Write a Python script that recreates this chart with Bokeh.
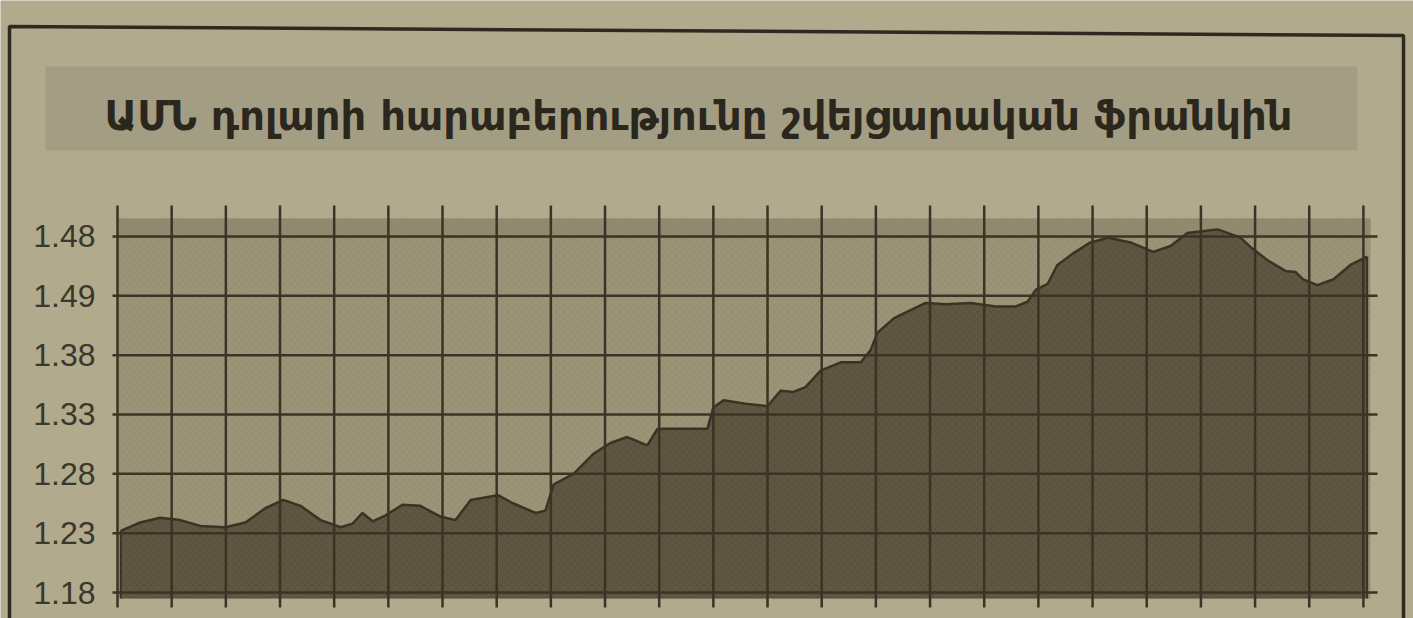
from bokeh.plotting import figure
from bokeh.embed import file_html
from bokeh.resources import INLINE
from bokeh.core.properties import value

# ---- data ----
title_text = "ԱՄՆ դոլարի հարաբերությունը շվեյցարական ֆրանկին"
week = [0.06, 0.42, 0.79, 1.16, 1.53, 1.99, 2.36, 2.73, 3.06, 3.38, 3.75, 4.12, 4.34, 4.52,
        4.71, 4.95, 5.26, 5.59, 5.96, 6.24, 6.52, 7.02, 7.31, 7.72, 7.90, 8.05, 8.42, 8.79,
        9.10, 9.41, 9.78, 9.97, 10.39, 10.89, 11.0, 11.19, 11.59, 12.0, 12.24, 12.48, 12.70,
        12.98, 13.35, 13.72, 13.9, 14.03, 14.33, 14.64, 14.92, 15.29, 15.75, 16.21, 16.58,
        16.80, 16.95, 17.17, 17.35, 17.65, 17.96, 18.29, 18.70, 19.12, 19.44, 19.75, 20.31,
        20.73, 20.92, 21.23, 21.56, 21.75, 21.88, 22.15, 22.45, 22.76, 23.07]
rate = [1.232, 1.239, 1.243, 1.241, 1.236, 1.235, 1.239, 1.251, 1.258, 1.253, 1.241, 1.235,
        1.238, 1.247, 1.240, 1.245, 1.254, 1.253, 1.244, 1.241, 1.258, 1.262, 1.255, 1.247,
        1.249, 1.271, 1.280, 1.297, 1.306, 1.311, 1.304, 1.318, 1.318, 1.318, 1.336, 1.342,
        1.339, 1.337, 1.350, 1.349, 1.353, 1.367, 1.374, 1.374, 1.384, 1.399, 1.411, 1.418,
        1.424, 1.423, 1.424, 1.421, 1.421, 1.425, 1.435, 1.440, 1.456, 1.466, 1.475, 1.479,
        1.475, 1.467, 1.472, 1.483, 1.486, 1.479, 1.471, 1.460, 1.451, 1.450, 1.444, 1.439,
        1.444, 1.456, 1.463]
y_ticks = [1.48, 1.43, 1.38, 1.33, 1.28, 1.23, 1.18]
y_tick_labels = ["1.48", "1.49", "1.38", "1.33", "1.28", "1.23", "1.18"]
x_ticks = list(range(24))

# ---- page geometry helpers (window pixel -> data) ----
W, H = 1413, 618
def dx(px):
    return (px - 117) / 54.17
def dy(py):
    return 1.18 + (592 - py) / 1186.7

PAGE_BG = "#b1aa8c"
GRID = "#3a3426"

p = figure(width=W, height=H, output_backend="svg", toolbar_location=None,
           x_range=(dx(0), dx(W)), y_range=(dy(H), dy(0)),
           min_border=0, background_fill_color=PAGE_BG, border_fill_color=PAGE_BG,
           outline_line_color=None)
p.xaxis.visible = False
p.yaxis.visible = False
p.xgrid.visible = False
p.ygrid.visible = False

# outer box
p.line(x=[dx(9), dx(9), dx(1403), dx(1403)], y=[dy(625), dy(26), dy(35), dy(625)],
       line_color="#2e2a1f", line_width=3.5)

# title band
p.quad(left=dx(45), right=dx(1357), top=dy(66), bottom=dy(150),
       fill_color="#a39e83", line_color=None)
p.text(x=[dx(698)], y=[dy(115)], text=[title_text], text_align="center",
       text_baseline="alphabetic", text_font=value("DejaVu Sans"), text_font_style="bold",
       text_font_size="40px", text_color="#2b271d")

# plot background
p.quad(left=dx(117), right=dx(1370), top=dy(218), bottom=dy(598),
       fill_color="#9c9477", line_color=None,
       hatch_pattern="diagonal_cross", hatch_color="#7d765d", hatch_alpha=0.25, hatch_scale=7)
p.quad(left=dx(117), right=dx(1370), top=dy(218), bottom=dy(238),
       fill_color="#8a846a", fill_alpha=0.6, line_color=None)

# area
bottom = [dy(598)] * len(week)
p.varea(x=week, y1=bottom, y2=rate, fill_color="#5f5741",
        hatch_pattern="diagonal_cross", hatch_color="#4a4332", hatch_alpha=0.35, hatch_scale=7)
p.line(x=week, y=rate, line_color="#3a3324", line_width=2.5)
p.line(x=[week[0], week[0]], y=[dy(598), rate[0]], line_color="#3a3324", line_width=2)
p.line(x=[week[-1], week[-1]], y=[dy(598), rate[-1]], line_color="#3a3324", line_width=2)

# grid lines
p.segment(x0=x_ticks, x1=x_ticks, y0=[dy(205)] * len(x_ticks), y1=[dy(607)] * len(x_ticks),
          line_color=GRID, line_width=2.5)
p.segment(x0=[dx(112)] * len(y_ticks), x1=[dx(1377)] * len(y_ticks), y0=y_ticks, y1=y_ticks,
          line_color=GRID, line_width=2.5)

# y tick labels
p.text(x=[dx(95)] * len(y_ticks), y=y_ticks, text=y_tick_labels, text_align="right",
       text_baseline="alphabetic", text_font=value("Liberation Sans"), text_font_size="32px",
       text_color="#3a372d")

html = file_html(p, INLINE)
html = html.replace("<body>", '<body style="background:#b1aa8c;">', 1)
open("out.html", "w").write(html)
